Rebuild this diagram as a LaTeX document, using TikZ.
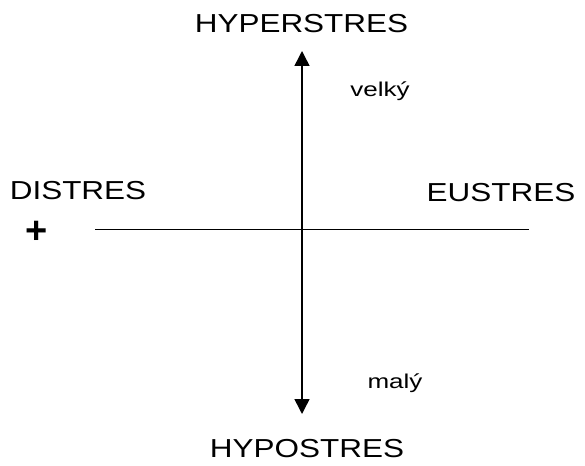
\documentclass[tikz,border=0pt]{standalone}
\usepackage{fontspec}
\setmainfont{Liberation Sans}
\usetikzlibrary{arrows.meta}
\tikzset{
  big/.style={inner sep=0pt, anchor=base, font=\fontsize{26}{30}\selectfont, xscale=1.21},
  small/.style={inner sep=0pt, anchor=base, font=\fontsize{20}{24}\selectfont, xscale=1.3},
  axis/.style={line width=1.5pt, {Triangle[width=15pt,length=15pt]}-{Triangle[width=15pt,length=15pt]}},
  haxis/.style={line width=1pt}
}
\begin{document}
\begin{tikzpicture}[x=1pt,y=-1pt]
\useasboundingbox (0,0) rectangle (585,465);
\node[big] (hyper) at (301.5,33) {HYPERSTRES};
\node[big] (hypo) at (307,457) {HYPOSTRES};
\node[big] (dis) at (78,199) {DISTRES};
\node[big] (eu) at (501,201) {EUSTRES};
\node[small] (velky) at (380,97) {velký};
\node[small] (maly) at (395,388) {malý};
\node[inner sep=0pt, font=\fontsize{38}{40}\selectfont\bfseries] (plus) at (37,232) {+};
\coordinate (t) at (302,51);
\coordinate (b) at (302,414);
\coordinate (l) at (95,229);
\coordinate (r) at (529,229);
\draw[axis] (b) -- (t);
\draw[haxis] (l) -- (r);
\end{tikzpicture}
\end{document}
